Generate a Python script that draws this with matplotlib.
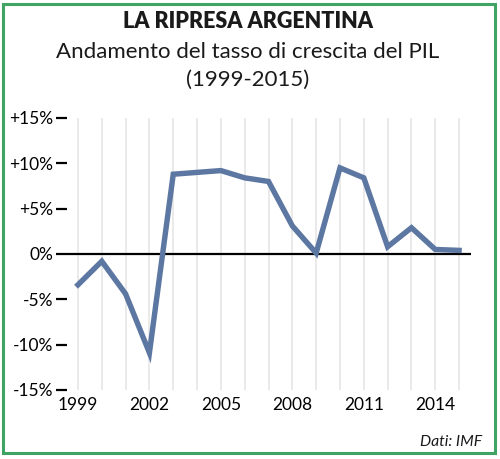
import matplotlib.pyplot as plt
from matplotlib.patches import Rectangle

plt.rcParams['font.family'] = ['Lato', 'DejaVu Sans']

# Data: Argentina GDP growth rate (%)
years = list(range(1999, 2016))
growth = [-3.4, -0.8, -4.4, -10.9, 8.8, 9.0, 9.2, 8.4, 8.0, 3.1, 0.1,
          9.5, 8.4, 0.8, 2.9, 0.5, 0.4]
x_ticks = [1999, 2002, 2005, 2008, 2011, 2014]
y_ticks = [-15, -10, -5, 0, 5, 10, 15]
y_labels = ['-15%', '-10%', '-5%', '0%', '+5%', '+10%', '+15%']

W, H = 500, 459
fig = plt.figure(figsize=(W / 100, H / 100), dpi=100)

# green frame
fig.patches.append(Rectangle((3 / W, 6 / H), 492 / W, 449 / H, transform=fig.transFigure,
                             fill=False, edgecolor='#3fa463', linewidth=2.2))

fig.text(248 / W, 1 - 22 / H, 'LA RIPRESA ARGENTINA', ha='center', va='center',
         fontsize=15.5, fontweight='heavy', color='#1a1a1a')
fig.text(248 / W, 1 - 52 / H, 'Andamento del tasso di crescita del PIL', ha='center',
         va='center', fontsize=16, color='#1a1a1a')
fig.text(248 / W, 1 - 80 / H, '(1999-2015)', ha='center', va='center',
         fontsize=16, color='#1a1a1a')
fig.text(482 / W, 1 - 442 / H, 'Dati: IMF', ha='right', va='center',
         fontsize=11.3, style='italic', color='#1a1a1a')

# axes: left 67, right 471, top 118, bottom 390 (pixels)
ax = fig.add_axes([67 / W, 1 - 390 / H, (471 - 67) / W, (390 - 118) / H])
ax.set_xlim(1998.54, 2015.5)
ax.set_ylim(-15, 15)

for yr in years:
    ax.axvline(yr, color='#e6e6e6', linewidth=1.2, zorder=1)
ax.axhline(0, color='black', linewidth=1.6, zorder=2)
ax.plot(years, growth, color='#5c77a1', linewidth=3.9, solid_joinstyle='miter', zorder=3)

for s in ax.spines.values():
    s.set_visible(False)

ax.set_yticks(y_ticks)
ax.set_yticklabels(y_labels)
ax.set_xticks(x_ticks)
ax.set_xticklabels([str(v) for v in x_ticks])
ax.tick_params(axis='y', length=8, width=1.6, color='black', pad=2,
               labelsize=12.5, direction='out')
ax.tick_params(axis='x', length=0, pad=5, labelsize=12.5)

fig.savefig('out.png', dpi=100)
